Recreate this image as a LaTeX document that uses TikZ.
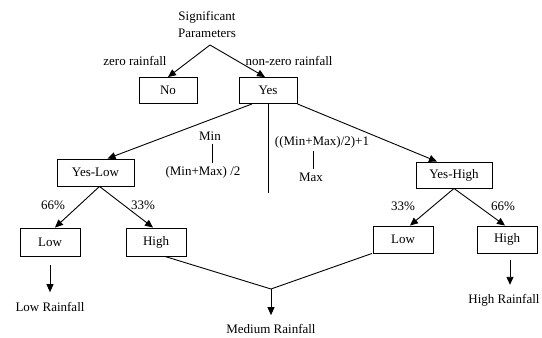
\documentclass[tikz,border=0pt]{standalone}
\usepackage{fontspec}
\setmainfont{Liberation Serif}
\usetikzlibrary{arrows.meta,positioning}

\begin{document}
\begin{tikzpicture}[x=1pt, y=-1pt,
    box/.style={draw, line width=0.9pt, minimum height=26pt, minimum width=60pt, inner sep=0pt, font=\fontsize{13}{15}\selectfont},
    lbl/.style={inner sep=0pt, font=\fontsize{13}{15}\selectfont},
    arr/.style={-{Triangle[width=7pt,length=8pt]}, line width=0.9pt},
    ln/.style={line width=0.9pt}
]
\useasboundingbox (0,0) rectangle (542,338);

\node[lbl] (sig) at (207,17) {Significant};
\node[lbl] (par) at (207,33) {Parameters};
\coordinate (root) at (210,45);
\node[lbl] (zero) at (135,61) {zero rainfall};
\node[lbl] (nonzero) at (289,61) {non-zero rainfall};
\node[box, minimum width=58pt] (no) at (168,90.5) {No};
\node[box, minimum width=58pt] (yes) at (268,90.5) {Yes};

\draw[arr] (root) -- (no.north);
\draw[arr] (root) -- ([xshift=-3pt]yes.north);

\node[box, minimum width=77pt, minimum height=27pt] (ylow) at (95.5,172.5) {Yes-Low};
\node[box, minimum width=76pt] (yhigh) at (454,175) {Yes-High};
\coordinate (split) at (268,193);

\draw[arr] ([xshift=-16pt]yes.south) -- ([xshift=12pt]ylow.north);
\draw[ln] (yes.south) -- (split);
\draw[arr] (yes.south east) -- ([xshift=-17pt]yhigh.north);

\node[lbl] (min) at (210,136) {Min};
\node[lbl] (mid) at (203,172) {(Min+Max) /2};
\draw[ln, line width=0.6pt, shorten <=3pt, shorten >=3pt] ([xshift=2pt]min.south) -- ([xshift=2pt]min.south |- mid.north);
\node[lbl] (midp) at (322,142) {((Min+Max)/2)+1};
\node[lbl] (max) at (311,177) {Max};
\draw[ln, line width=0.6pt, shorten <=3pt, shorten >=3pt] ([xshift=2pt]max.north |- midp.south) -- ([xshift=2pt]max.north);

\node[box, minimum height=28pt] (lowa) at (50,242) {Low};
\node[box, minimum height=28pt] (higha) at (156,242) {High};
\node[box, minimum height=27pt] (lowb) at (403,239.5) {Low};
\node[box, minimum height=27pt] (highb) at (507,239.5) {High};

\node[lbl] (pa) at (53,205) {66\%};
\node[lbl] (pb) at (143,205) {33\%};
\node[lbl] (pc) at (403,206) {33\%};
\node[lbl] (pd) at (503,206) {66\%};

\draw[arr] ([xshift=4pt]ylow.south) -- ([xshift=5pt]lowa.north);
\draw[arr] ([xshift=4pt]ylow.south) -- ([xshift=-3pt]higha.north);
\draw[arr] (yhigh.south) -- ([xshift=7pt]lowb.north);
\draw[arr] (yhigh.south) -- ([xshift=-2pt]highb.north);

\node[lbl] (lowr) at (50,307) {Low Rainfall};
\node[lbl] (medr) at (271,329) {Medium Rainfall};
\node[lbl] (highr) at (504,300) {High Rainfall};
\coordinate (merge) at (271,289);

\draw[arr, shorten <=9pt, shorten >=10pt] (lowa.south) -- (lowr.north);
\draw[ln] ([xshift=9pt]higha.south) -- (merge) -- ([xshift=-31pt]lowb.south);
\draw[arr, shorten >=9pt] (merge) -- (medr.north);
\draw[arr, shorten <=7pt, shorten >=9pt] ([xshift=3pt]highb.south) -- ([xshift=3pt]highb.south |- highr.north);
\end{tikzpicture}
\end{document}
